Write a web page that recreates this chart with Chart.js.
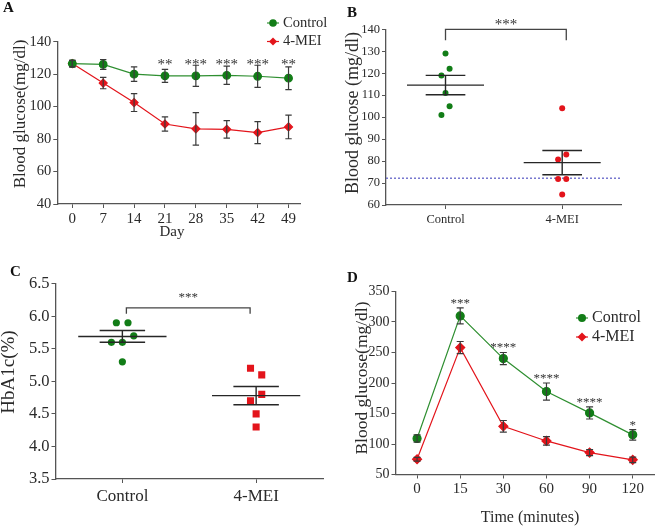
<!DOCTYPE html>
<html><head><meta charset="utf-8">
<script src="https://cdn.jsdelivr.net/npm/chart.js@4.4.0/dist/chart.umd.min.js"></script>
<style>
html,body{margin:0;padding:0;background:#fff;}
#wrap{position:relative;width:660px;height:527px;background:#fff;overflow:hidden;}
canvas{position:absolute;}
</style></head><body>
<div id="wrap">
<canvas id="cA" width="330" height="245" style="left:0;top:0"></canvas>
<canvas id="cB" width="330" height="260" style="left:330px;top:0"></canvas>
<canvas id="cC" width="330" height="267" style="left:0;top:260px"></canvas>
<canvas id="cD" width="330" height="267" style="left:330px;top:260px"></canvas>
</div>
<script>
// ---------- Panel A data ----------
const daysA = [0, 7, 14, 21, 28, 35, 42, 49];
const controlA = [126.5, 126, 120, 119, 119, 119.3, 118.7, 117.5];
const controlErrA = [2, 3, 4.5, 4, 6.5, 5.6, 6.8, 7];
const meiA = [126.5, 114.5, 102.5, 89.3, 86.3, 86, 84, 87.5];
const meiErrA = [2, 3.5, 5.5, 4.4, 10, 5.4, 6.8, 7.3];
const starsA = ['', '', '', '**', '***', '***', '***', '**'];
const yTicksA = [40, 60, 80, 100, 120, 140];
// ---------- Panel B data ----------
const groupsB = ['Control', '4-MEI'];
const controlB = [129, 122, 119, 111, 105, 101];
const meiB = [104, 83, 80.7, 71.8, 71.8, 64.8];
const meanB = [114.6, 79.3];
const semB = [4.4, 5.5];
const refLineB = 72.2;
const yTicksB = [60, 70, 80, 90, 100, 110, 120, 130, 140];
// ---------- Panel C data ----------
const groupsC = ['Control', '4-MEI'];
const controlC = [5.9, 5.9, 5.7, 5.6, 5.6, 5.3];
const meiC = [5.2, 5.1, 4.8, 4.7, 4.5, 4.3];
const meanC = [5.69, 4.78];
const semC = [0.09, 0.14];
const yTicksC = [3.5, 4.0, 4.5, 5.0, 5.5, 6.0, 6.5];
// ---------- Panel D data ----------
const timesD = ['0', '15', '30', '60', '90', '120'];
const controlD = [109, 310, 240, 186, 151, 115];
const controlErrD = [6, 13, 10, 14, 10, 8.5];
const meiD = [75, 258, 129, 105, 86, 74];
const meiErrD = [3, 10, 9.5, 7, 5, 4.6];
const starsD = ['', '***', '****', '****', '****', '*'];
const yTicksD = [50, 100, 150, 200, 250, 300, 350];

// layout-only horizontal scatter offsets (dot-plot spreading)
const spreadCtrlB = [0, 0.035, -0.035, 0, 0.035, -0.035];
const spreadMeiB = [0, 0.035, -0.035, -0.035, 0.035, 0];
const spreadCtrlC = [-0.045, 0.042, 0.085, -0.082, 0, 0];
const spreadMeiC = [-0.042, 0.042, 0.042, -0.042, 0, 0];

const FONT = "'Liberation Serif', 'Times New Roman', serif";
const GREEN = '#127d17', GREEN_LINE = '#2f8f31', RED = '#e3141b';
const AXIS = '#555555', TXT = '#2a2a2a', ERR = '#3a3a3a';

function text(ctx, s, x, y, size, opt = {}) {
  ctx.save();
  ctx.font = (opt.bold ? 'bold ' : '') + size + 'px ' + FONT;
  ctx.fillStyle = opt.color || TXT;
  ctx.textAlign = opt.align || 'center';
  ctx.textBaseline = opt.baseline || 'middle';
  if (opt.rot) { ctx.translate(x, y); ctx.rotate(opt.rot); ctx.fillText(s, 0, 0); }
  else ctx.fillText(s, x, y);
  ctx.restore();
}
function stars(ctx, s, x, cy, size) { // cy = visual centre of asterisks
  text(ctx, s, x, cy + size * 0.45, size, {baseline: 'alphabetic', color: '#333'});
}
function errorBars(chart, di, errs, cap) {
  const meta = chart.getDatasetMeta(di), ys = chart.scales.y, ctx = chart.ctx;
  const data = chart.data.datasets[di].data;
  ctx.save(); ctx.strokeStyle = ERR; ctx.lineWidth = 1.2;
  meta.data.forEach((pt, i) => {
    const v = typeof data[i] === 'object' ? data[i].y : data[i];
    const y1 = ys.getPixelForValue(v + errs[i]), y2 = ys.getPixelForValue(v - errs[i]);
    ctx.beginPath();
    ctx.moveTo(pt.x, y1); ctx.lineTo(pt.x, y2);
    ctx.moveTo(pt.x - cap, y1); ctx.lineTo(pt.x + cap, y1);
    ctx.moveTo(pt.x - cap, y2); ctx.lineTo(pt.x + cap, y2);
    ctx.stroke();
  });
  ctx.restore();
}
function legend(chart, x, y0, dy, size) {
  const ctx = chart.ctx;
  chart.data.datasets.forEach((ds, i) => {
    const y = y0 + i * dy;
    ctx.save();
    ctx.strokeStyle = ds.borderColor; ctx.lineWidth = 1.2;
    ctx.beginPath(); ctx.moveTo(x - 6, y); ctx.lineTo(x + 6, y); ctx.stroke();
    ctx.fillStyle = ds.pointBackgroundColor; ctx.strokeStyle = ds.pointBackgroundColor;
    Chart.helpers.drawPoint(ctx, {pointStyle: ds.pointStyle, radius: ds.pointRadius, rotation: 0, borderWidth: 0}, x, y);
    ctx.restore();
    text(ctx, ds.label, x + 10, y, size, {align: 'left'});
  });
}
function meanSem(chart, means, sems) {
  const xs = chart.scales.x, ys = chart.scales.y, ctx = chart.ctx;
  ctx.save(); ctx.strokeStyle = '#262626'; ctx.lineWidth = 1.4;
  means.forEach((m, i) => {
    const c = i + 1;
    const ym = ys.getPixelForValue(m), yu = ys.getPixelForValue(m + sems[i]), yl = ys.getPixelForValue(m - sems[i]);
    ctx.beginPath();
    ctx.moveTo(xs.getPixelForValue(c - 0.33), ym); ctx.lineTo(xs.getPixelForValue(c + 0.33), ym);
    ctx.moveTo(xs.getPixelForValue(c - 0.17), yu); ctx.lineTo(xs.getPixelForValue(c + 0.17), yu);
    ctx.moveTo(xs.getPixelForValue(c - 0.17), yl); ctx.lineTo(xs.getPixelForValue(c + 0.17), yl);
    ctx.moveTo(xs.getPixelForValue(c), yu); ctx.lineTo(xs.getPixelForValue(c), yl);
    ctx.stroke();
  });
  ctx.restore();
}
function bracket(chart, x1, x2, yTop, yLeg, label, yLabel, size) {
  const xs = chart.scales.x, ys = chart.scales.y, ctx = chart.ctx;
  ctx.save(); ctx.strokeStyle = '#444'; ctx.lineWidth = 1.3;
  ctx.beginPath();
  ctx.moveTo(xs.getPixelForValue(x1), ys.getPixelForValue(yLeg));
  ctx.lineTo(xs.getPixelForValue(x1), ys.getPixelForValue(yTop));
  ctx.lineTo(xs.getPixelForValue(x2), ys.getPixelForValue(yTop));
  ctx.lineTo(xs.getPixelForValue(x2), ys.getPixelForValue(yLeg));
  ctx.stroke(); ctx.restore();
  stars(ctx, label, xs.getPixelForValue((x1 + x2) / 2), ys.getPixelForValue(yLabel), size);
}
function axisOpts(size, extra) {
  return Object.assign({
    grid: {drawOnChartArea: false, drawTicks: true, tickLength: 4, color: AXIS, lineWidth: 1},
    border: {display: true, color: AXIS, width: 1.3},
    ticks: {font: {family: FONT, size: size}, color: TXT, padding: 2, maxRotation: 0, autoSkip: false}
  }, extra);
}
const base = {responsive: false, animation: false, devicePixelRatio: 1,
  plugins: {legend: {display: false}, tooltip: {enabled: false}}};

// ================= Panel A =================
new Chart(document.getElementById('cA'), {
  type: 'line',
  data: {datasets: [
    {label: 'Control', data: daysA.map((d, i) => ({x: d, y: controlA[i]})), borderColor: GREEN_LINE,
     pointBackgroundColor: GREEN, pointBorderColor: GREEN, pointStyle: 'circle', pointRadius: 3.8, borderWidth: 1.2, tension: 0},
    {label: '4-MEI', data: daysA.map((d, i) => ({x: d, y: meiA[i]})), borderColor: RED,
     pointBackgroundColor: RED, pointBorderColor: RED, pointStyle: 'rectRot', pointRadius: 4, borderWidth: 1.2, tension: 0}
  ]},
  options: Object.assign({}, base, {
    layout: {padding: {left: 0, top: 41.7, right: 30, bottom: 0}},
    scales: {
      x: axisOpts(15, {type: 'linear', min: -3.4, max: 51.6,
        afterBuildTicks: s => { s.ticks = daysA.map(v => ({value: v})); },
        afterFit: s => { s.height = 41; }}),
      y: axisOpts(14.5, {min: 40, max: 140,
        afterBuildTicks: s => { s.ticks = yTicksA.map(v => ({value: v})); },
        afterFit: s => { s.width = 57.3; }})
    }
  }),
  plugins: [{id: 'extrasA', afterDatasetsDraw(chart) {
    const ctx = chart.ctx, xs = chart.scales.x, ys = chart.scales.y;
    errorBars(chart, 1, meiErrA, 3.2);
    errorBars(chart, 0, controlErrA, 3.2);
    starsA.forEach((s, i) => { if (s) stars(ctx, s, xs.getPixelForValue(daysA[i]), ys.getPixelForValue(127.5), 15); });
    legend(chart, 273, 23, 18.5, 14.5);
    text(ctx, 'Blood glucose(mg/dl)', 21, 114, 17, {rot: -Math.PI / 2});
    text(ctx, 'Day', 172, 232, 15);
    text(ctx, 'A', 3, 8, 15, {bold: true, align: 'left', color: '#111'});
  }}]
});

// ================= Panel B =================
new Chart(document.getElementById('cB'), {
  type: 'scatter',
  data: {datasets: [
    {label: 'Control', data: controlB.map((v, i) => ({x: 1 + spreadCtrlB[i], y: v})),
     pointBackgroundColor: GREEN, pointBorderColor: GREEN, pointRadius: 3, borderWidth: 0},
    {label: '4-MEI', data: meiB.map((v, i) => ({x: 2 + spreadMeiB[i], y: v})),
     pointBackgroundColor: RED, pointBorderColor: RED, pointRadius: 3, borderWidth: 0}
  ]},
  options: Object.assign({}, base, {
    layout: {padding: {left: 0, top: 29.3, right: 38.3, bottom: 0}},
    scales: {
      x: axisOpts(12.5, {type: 'linear', min: 0.49, max: 2.51,
        afterBuildTicks: s => { s.ticks = groupsB.map((g, i) => ({value: i + 1})); },
        ticks: {font: {family: FONT, size: 12.5}, color: TXT, padding: 3, maxRotation: 0, autoSkip: false,
          callback: (v, i) => groupsB[i]},
        afterFit: s => { s.height = 55; }}),
      y: axisOpts(12.5, {min: 60, max: 140,
        afterBuildTicks: s => { s.ticks = yTicksB.map(v => ({value: v})); },
        afterFit: s => { s.width = 56; }})
    }
  }),
  plugins: [{id: 'extrasB', beforeDatasetsDraw(chart) {
    const ctx = chart.ctx, ys = chart.scales.y, a = chart.chartArea;
    ctx.save(); ctx.strokeStyle = '#6262c8'; ctx.lineWidth = 1.3; ctx.setLineDash([2, 2]);
    const y = ys.getPixelForValue(refLineB);
    ctx.beginPath(); ctx.moveTo(a.left, y); ctx.lineTo(a.right, y); ctx.stroke(); ctx.restore();
  }, afterDatasetsDraw(chart) {
    const ctx = chart.ctx;
    meanSem(chart, meanB, semB);
    bracket(chart, 1.0, 2.035, 140, 135, '***', 143, 15);
    text(ctx, 'Blood glucose (mg/dl)', 23, 113, 18, {rot: -Math.PI / 2});
    text(ctx, 'B', 17, 13, 15, {bold: true, align: 'left', color: '#111'});
  }}]
});

// ================= Panel C =================
new Chart(document.getElementById('cC'), {
  type: 'scatter',
  data: {datasets: [
    {label: 'Control', data: controlC.map((v, i) => ({x: 1 + spreadCtrlC[i], y: v})),
     pointBackgroundColor: GREEN, pointBorderColor: GREEN, pointRadius: 3.6, borderWidth: 0},
    {label: '4-MEI', data: meiC.map((v, i) => ({x: 2 + spreadMeiC[i], y: v})), pointStyle: 'rect',
     pointBackgroundColor: RED, pointBorderColor: RED, pointRadius: 5, borderWidth: 0}
  ]},
  options: Object.assign({}, base, {
    layout: {padding: {left: 0, top: 23.7, right: 7, bottom: 0}},
    scales: {
      x: axisOpts(17, {type: 'linear', min: 0.5, max: 2.5,
        afterBuildTicks: s => { s.ticks = groupsC.map((g, i) => ({value: i + 1})); },
        ticks: {font: {family: FONT, size: 17}, color: TXT, padding: 3, maxRotation: 0, autoSkip: false,
          callback: (v, i) => groupsC[i]},
        afterFit: s => { s.height = 48; }}),
      y: axisOpts(16.5, {min: 3.5, max: 6.5,
        afterBuildTicks: s => { s.ticks = yTicksC.map(v => ({value: v})); },
        ticks: {font: {family: FONT, size: 16.5}, color: TXT, padding: 2, callback: v => v.toFixed(1)},
        afterFit: s => { s.width = 55.5; }})
    }
  }),
  plugins: [{id: 'extrasC', afterDatasetsDraw(chart) {
    const ctx = chart.ctx;
    meanSem(chart, meanC, semC);
    bracket(chart, 1.03, 1.955, 6.13, 6.04, '***', 6.32, 13);
    text(ctx, 'HbA1c(%)', 9, 112, 19, {rot: -Math.PI / 2});
    text(ctx, 'C', 10, 12, 15, {bold: true, align: 'left', color: '#111'});
  }}]
});

// ================= Panel D =================
new Chart(document.getElementById('cD'), {
  type: 'line',
  data: {labels: timesD, datasets: [
    {label: 'Control', data: controlD, borderColor: GREEN_LINE,
     pointBackgroundColor: GREEN, pointBorderColor: GREEN, pointStyle: 'circle', pointRadius: 4, borderWidth: 1.2, tension: 0},
    {label: '4-MEI', data: meiD, borderColor: RED,
     pointBackgroundColor: RED, pointBorderColor: RED, pointStyle: 'rectRot', pointRadius: 4.5, borderWidth: 1.2, tension: 0}
  ]},
  options: Object.assign({}, base, {
    layout: {padding: {left: 0, top: 31.5, right: 0, bottom: 0}},
    scales: {
      x: axisOpts(15, {offset: true, grid: {drawOnChartArea: false, drawTicks: true, tickLength: 4, color: AXIS, offset: false},
        afterFit: s => { s.height = 52.5; }}),
      y: axisOpts(14, {min: 50, max: 350,
        afterBuildTicks: s => { s.ticks = yTicksD.map(v => ({value: v})); },
        afterFit: s => { s.width = 65.5; }})
    }
  }),
  plugins: [{id: 'extrasD', afterDatasetsDraw(chart) {
    const ctx = chart.ctx, xs = chart.scales.x, ys = chart.scales.y;
    errorBars(chart, 1, meiErrD, 3.5);
    errorBars(chart, 0, controlErrD, 3.5);
    starsD.forEach((s, i) => {
      if (s) stars(ctx, s, xs.getPixelForValue(i), ys.getPixelForValue(controlD[i] + controlErrD[i]) - 7, 13);
    });
    legend(chart, 252, 58, 19, 16);
    text(ctx, 'Blood glucose(mg/dl)', 32, 118, 17.5, {rot: -Math.PI / 2});
    text(ctx, 'Time (minutes)', 200, 258, 16);
    text(ctx, 'D', 17, 18, 15, {bold: true, align: 'left', color: '#111'});
  }}]
});
</script>
</body></html>
